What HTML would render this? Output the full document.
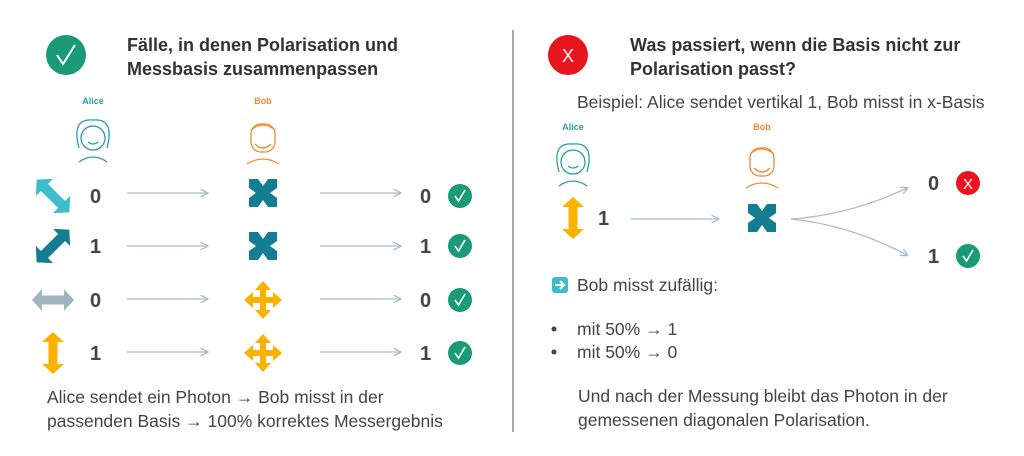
<!DOCTYPE html>
<html><head><meta charset="utf-8"><style>
body{margin:0;background:#fff;width:1024px;height:451px;overflow:hidden}
svg text{font-family:"Liberation Sans",sans-serif}
</style></head><body>
<svg width="1024" height="451" viewBox="0 0 1024 451" xmlns="http://www.w3.org/2000/svg">
<defs>
<polygon id="dar" points="-21,0 -11,-11 -11,-4.5 11,-4.5 11,-11 21,0 11,11 11,4.5 -11,4.5 -11,11"/>
<g id="xb"><rect x="-14" y="-14" width="28" height="28" fill="#137e92"/>
<polygon points="-5,-14 5,-14 0,-7" fill="#fff"/><polygon points="-5,14 5,14 0,7" fill="#fff"/>
<polygon points="-14,-5 -14,5 -7,0" fill="#fff"/><polygon points="14,-5 14,5 7,0" fill="#fff"/></g>
<polygon id="pb" fill="#f9b200" points="0,-19 8,-10 3,-10 3,-3 10,-3 10,-8 19,0 10,8 10,3 3,3 3,10 8,10 0,19 -8,10 -3,10 -3,3 -10,3 -10,8 -19,0 -10,-8 -10,-3 -3,-3 -3,-10 -8,-10"/>
<g id="ck"><circle r="12" fill="#1a9a76"/><path d="M-5,0 L-1.5,5 L5,-6" stroke="#fff" stroke-width="1.6" fill="none"/></g>
<g id="alice" fill="none" stroke="#2a9bb0" stroke-width="1.3"><circle cx="0" cy="0" r="12"/><path d="M-14,10 Q-22,-20 0,-18 Q22,-20 14,10"/><path d="M-5,4 Q0,8 5,4"/><path d="M-14,24 Q0,14 14,24"/></g>
<g id="bob" fill="none" stroke="#f08a33" stroke-width="1.3"><rect x="-12" y="-14" width="24" height="28" rx="10"/><path d="M-8,6 Q0,14 8,6"/><path d="M-16,26 Q0,16 16,26"/><path d="M-12,-8 Q0,-18 12,-8"/></g>
<marker id="ah" markerWidth="6" markerHeight="6" refX="5" refY="3" orient="auto"><path d="M0,0 L6,3 L0,6" fill="none" stroke="#a8bccb" stroke-width="1"/></marker>
</defs>
<g font-weight="bold" fill="#333" font-size="18">
<text x="127" y="51">Fälle, in denen Polarisation und</text>
<text x="127" y="75">Messbasis zusammenpassen</text>
<text x="630" y="51">Was passiert, wenn die Basis nicht zur</text>
<text x="630" y="75">Polarisation passt?</text>
</g>
<circle cx="66" cy="55" r="20" fill="#1a9a76"/><path d="M57,55 L63,64 L75,45" stroke="#fff" stroke-width="2" fill="none"/>
<circle cx="568" cy="55" r="20" fill="#e8141e"/><text x="568" y="62" font-size="18" fill="#fff" text-anchor="middle">X</text>
<line x1="513" y1="30" x2="513" y2="432" stroke="#aaa" stroke-width="2"/>
<g font-size="9" font-weight="bold" text-anchor="middle"><text x="93" y="104" fill="#2a9bb0">Alice</text><text x="263" y="104" fill="#f08a33">Bob</text>
<text x="573" y="130" fill="#2a9bb0">Alice</text><text x="762" y="130" fill="#f08a33">Bob</text></g>
<use href="#alice" x="93" y="138"/><use href="#bob" x="263" y="138"/>
<use href="#alice" x="573" y="162"/><use href="#bob" x="762" y="162"/>
<g font-size="20" font-weight="bold" fill="#444">
<use href="#dar" transform="translate(53,196) rotate(45) scale(1.1)" fill="#3bbdcc"/>
<use href="#dar" transform="translate(53,246) rotate(-45) scale(1.1)" fill="#137e92"/>
<use href="#dar" transform="translate(53,300)" fill="#9fb4c1"/>
<use href="#dar" transform="translate(53,353) rotate(90)" fill="#f9b200"/>
<text x="90" y="203">0</text><text x="90" y="253">1</text><text x="90" y="307">0</text><text x="90" y="360">1</text>
<text x="420" y="203">0</text><text x="420" y="253">1</text><text x="420" y="307">0</text><text x="420" y="360">1</text>
</g>
<g stroke="#a8bccb" stroke-width="1.3" marker-end="url(#ah)">
<line x1="127" y1="193" x2="207" y2="193"/><line x1="320" y1="193" x2="400" y2="193"/>
<line x1="127" y1="246" x2="207" y2="246"/><line x1="320" y1="246" x2="400" y2="246"/>
<line x1="127" y1="299" x2="207" y2="299"/><line x1="320" y1="299" x2="400" y2="299"/>
<line x1="127" y1="352" x2="207" y2="352"/><line x1="320" y1="352" x2="400" y2="352"/>
<line x1="631" y1="219" x2="718" y2="219"/>
<path d="M791,219 Q850,215 907,188" fill="none"/><path d="M791,219 Q850,225 907,255" fill="none"/>
</g>
<use href="#xb" x="263" y="193"/><use href="#xb" x="263" y="246"/>
<use href="#pb" x="263" y="300"/><use href="#pb" x="263" y="353"/>
<use href="#ck" x="460" y="196"/><use href="#ck" x="460" y="246"/><use href="#ck" x="460" y="300"/><use href="#ck" x="460" y="353"/>
<use href="#dar" transform="translate(573,218) rotate(90)" fill="#f9b200"/>
<use href="#xb" x="762" y="218"/>
<g font-size="20" font-weight="bold" fill="#444"><text x="598" y="225">1</text><text x="928" y="190">0</text><text x="928" y="263">1</text></g>
<circle cx="968" cy="183" r="12" fill="#e8141e"/><text x="968" y="189" font-size="15" fill="#fff" text-anchor="middle">X</text>
<use href="#ck" x="968" y="256"/>
<g font-size="17.5" fill="#444">
<text x="47" y="403">Alice sendet ein Photon → Bob misst in der</text>
<text x="47" y="427">passenden Basis → 100% korrektes Messergebnis</text>
<text x="577" y="108">Beispiel: Alice sendet vertikal 1, Bob misst in x-Basis</text>
<text x="577" y="291">Bob misst zufällig:</text>
<text x="577" y="335">mit 50% → 1</text>
<text x="577" y="358">mit 50% → 0</text>
<text x="578" y="402">Und nach der Messung bleibt das Photon in der</text>
<text x="578" y="426">gemessenen diagonalen Polarisation.</text>
</g>
<circle cx="554" cy="329" r="2.5" fill="#444"/><circle cx="554" cy="352" r="2.5" fill="#444"/>
<rect x="552" y="277" width="16" height="16" rx="3" fill="#3bbdcc"/><path d="M555,285 H563 M560,281 L564,285 L560,289" stroke="#fff" stroke-width="2" fill="none"/>
</svg>
</body></html>
